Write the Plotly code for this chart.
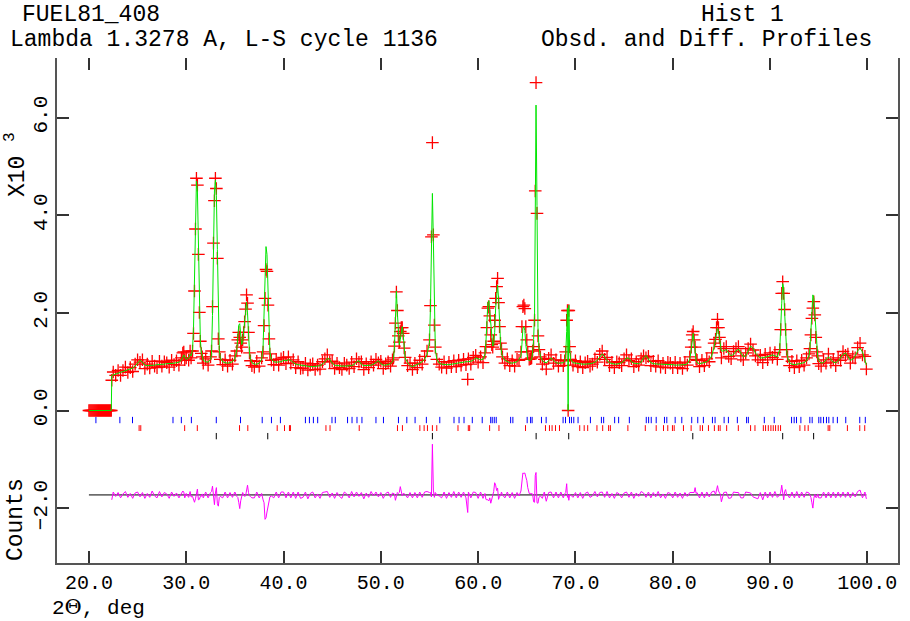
import plotly.graph_objects as go

# ---------------- data (2-theta in deg, intensities in 10^3 counts) ----------------
tth_a = [20.0, 20.1, 20.2, 20.3, 20.4, 20.5, 20.6, 20.7, 20.8, 20.9, 21.0, 21.1,
         21.2, 21.3, 21.4, 21.5, 21.6, 21.7, 21.8, 21.9, 22.0, 22.1, 22.2, 22.3]
obs_a = [0.0, 0.0, 0.0, 0.0, 0.0, 0.0, 0.0, 0.0, 0.0, 0.0, 0.0, 0.0,
         0.0, 0.0, 0.0, 0.0, 0.0, 0.0, 0.0, 0.0, 0.0, 0.0, 0.0, 0.0]
calc_a = [0.0, 0.0, 0.0, 0.0, 0.0, 0.0, 0.0, 0.0, 0.0, 0.0, 0.0, 0.0,
          0.0, 0.0, 0.0, 0.0, 0.0, 0.0, 0.0, 0.0, 0.0, 0.0, 0.0, 0.0]

tth_b = [22.35, 22.5, 22.75, 23.0, 23.25, 23.5, 23.75, 24.0, 24.25, 24.5,
         24.75, 25.0, 25.25, 25.5, 25.75, 26.0, 26.25, 26.5, 26.75, 27.0,
         27.25, 27.5, 27.75, 28.0, 28.25, 28.5, 28.75, 29.0, 29.25, 29.5,
         29.65, 29.75, 29.85, 30.0, 30.25, 30.4, 30.5]
calc_b = [0.72, 0.73, 0.75, 0.77, 0.78, 0.80, 0.82, 0.83, 0.85, 0.87,
          0.91, 0.98, 1.03, 0.99, 0.93, 0.92, 0.92, 0.93, 0.93, 0.94,
          0.94, 0.95, 0.95, 0.96, 0.96, 0.97, 0.97, 0.98, 0.99, 1.03,
          1.10, 1.14, 1.10, 1.05, 1.08, 1.15, 1.12]
obs_b = [0.62, 0.79, 0.72, 0.82, 0.72, 0.82, 0.89, 0.78, 0.88, 0.80,
         0.95, 1.04, 0.99, 1.04, 0.86, 0.95, 0.87, 1.01, 0.91, 0.88,
         1.01, 0.91, 1.00, 0.98, 0.89, 1.03, 0.94, 1.02, 0.93, 1.08,
         1.18, 1.20, 1.04, 1.08, 1.03, 1.22, 1.08]

tth_c = [30.65, 30.75, 30.85, 30.95, 31.05, 31.15, 31.25, 31.35, 31.45, 31.55,
         31.65, 31.75, 32.0, 32.25, 32.5]
calc_c = [1.25, 1.70, 2.60, 3.80, 4.70, 4.50, 3.30, 2.10, 1.45, 1.20,
          1.08, 1.03, 1.00, 0.99, 1.05]
obs_c = [1.22, 1.58, 2.45, 3.72, 4.76, 4.62, 3.20, 2.01, 1.42, 1.17,
         1.10, 0.97, 1.06, 0.93, 1.10]

tth_d = [32.6, 32.7, 32.8, 32.9, 33.0, 33.1, 33.2, 33.3, 33.4, 33.5,
         33.75, 34.0, 34.25, 34.5, 34.75, 35.0]
calc_d = [1.15, 1.95, 3.40, 4.50, 4.72, 4.40, 3.30, 1.70, 1.25, 1.08,
          1.00, 0.98, 0.97, 0.98, 1.00, 1.06]
obs_d = [1.22, 2.13, 3.43, 4.30, 4.76, 4.55, 3.12, 1.47, 1.20, 1.05,
         0.94, 1.04, 0.91, 1.03, 0.95, 1.12]

tth_e = [35.2, 35.3, 35.4, 35.5, 35.6, 35.7, 35.8, 35.9, 36.0, 36.1,
         36.2, 36.3, 36.4, 36.5, 36.6, 36.75, 37.0, 37.25, 37.5, 37.75]
calc_e = [1.25, 1.50, 1.75, 1.78, 1.50, 1.35, 1.40, 1.60, 1.85, 2.10,
          2.22, 2.00, 1.55, 1.20, 1.05, 0.98, 0.95, 0.95, 0.97, 1.05]
obs_e = [1.22, 1.45, 1.60, 1.50, 1.38, 1.30, 1.45, 1.60, 1.82, 2.08,
         2.37, 2.20, 1.60, 1.18, 1.02, 0.92, 0.89, 1.01, 0.91, 1.08]

tth_f = [37.9, 38.0, 38.1, 38.2, 38.3, 38.4, 38.5, 38.6, 38.75, 39.0,
         39.25, 39.5, 39.75, 40.0, 40.25, 40.5, 40.75, 41.0, 41.25, 41.5,
         41.75]
calc_f = [1.30, 1.90, 2.80, 3.36, 3.20, 2.40, 1.60, 1.20, 1.05, 1.00,
          0.99, 0.99, 1.00, 1.03, 1.02, 1.04, 1.03, 0.98, 0.95, 0.94,
          0.93]
obs_f = [1.20, 1.74, 2.30, 2.89, 2.85, 2.16, 1.47, 1.16, 1.03, 0.94,
         1.05, 0.93, 1.06, 1.09, 0.96, 1.10, 0.97, 1.04, 0.88, 1.00,
         0.86]

tth_g = [42.0, 42.25, 42.5, 42.75, 43.0, 43.25, 43.5, 43.75, 44.0, 44.25,
         44.5, 44.75, 45.0, 45.25, 45.5, 45.75, 46.0, 46.25, 46.5, 46.75,
         47.0, 47.25, 47.5, 47.75, 48.0, 48.25, 48.5, 48.75, 49.0, 49.25,
         49.5, 49.75, 50.0, 50.25, 50.5, 50.75, 51.0, 51.2]
calc_g = [0.92, 0.91, 0.91, 0.90, 0.90, 0.90, 0.91, 0.92, 0.95, 1.00,
          1.07, 1.05, 0.97, 0.93, 0.92, 0.91, 0.91, 0.91, 0.91, 0.92,
          0.92, 0.94, 1.00, 1.02, 0.95, 0.92, 0.92, 0.93, 0.93, 0.95,
          0.99, 1.02, 0.96, 0.93, 0.93, 0.94, 0.96, 1.00]
obs_g = [0.87, 0.97, 0.83, 0.93, 0.96, 0.84, 0.93, 0.85, 1.00, 1.06,
         1.14, 1.00, 1.01, 0.86, 0.97, 0.88, 0.84, 0.97, 0.93, 0.86,
         0.99, 0.90, 1.06, 0.99, 1.00, 0.84, 0.96, 0.88, 1.00, 0.93,
         1.05, 0.98, 1.01, 0.86, 0.96, 1.00, 0.91, 1.04]

tth_h = [51.3, 51.4, 51.5, 51.6, 51.7, 51.8, 51.9, 52.0, 52.1, 52.2,
         52.3, 52.4, 52.5, 52.75, 53.0, 53.25, 53.5, 53.75, 54.0, 54.25,
         54.5, 54.75]
calc_h = [1.05, 1.30, 1.90, 2.45, 2.00, 1.50, 1.35, 1.45, 1.60, 1.72,
          1.55, 1.25, 1.08, 0.98, 0.92, 0.90, 0.92, 0.94, 0.97, 1.00,
          1.05, 1.15]
obs_h = [1.08, 1.32, 1.79, 2.43, 2.05, 1.53, 1.40, 1.62, 1.70, 1.70,
         1.58, 1.28, 1.09, 0.92, 0.97, 0.84, 0.97, 0.88, 1.03, 0.95,
         1.11, 1.22]

tth_i = [55.0, 55.1, 55.2, 55.3, 55.4, 55.5, 55.6, 55.75, 56.0]
calc_i = [1.40, 2.10, 3.60, 4.45, 3.50, 1.80, 1.25, 1.05, 0.97]
obs_i = [1.45, 2.15, 3.56, 5.49, 3.60, 1.75, 1.30, 1.05, 0.95]

tth_j = [56.25, 56.5, 56.75, 57.0, 57.25, 57.5, 57.75, 58.0, 58.25, 58.5,
         58.75, 58.93, 59.0, 59.25, 59.5, 59.75, 60.0, 60.25, 60.5]
calc_j = [0.95, 0.94, 0.94, 0.94, 0.95, 0.95, 0.96, 0.97, 0.98, 0.99,
          1.00, 1.00, 1.00, 1.01, 1.03, 1.08, 1.06, 1.04, 1.05]
obs_j = [0.89, 1.00, 0.87, 0.99, 0.90, 1.02, 0.90, 1.03, 0.93, 1.05,
         0.94, 0.64, 1.06, 0.95, 1.09, 1.13, 0.99, 1.10, 0.98]

tth_k = [60.7, 60.8, 60.9, 61.0, 61.1, 61.2, 61.3, 61.4, 61.5, 61.6,
         61.7, 61.8, 61.9, 62.0, 62.1, 62.2, 62.3, 62.4, 62.5, 62.75]
calc_k = [1.15, 1.40, 1.80, 2.20, 2.25, 2.00, 1.72, 1.45, 1.32, 1.35,
          1.60, 2.10, 2.45, 2.57, 2.30, 1.75, 1.40, 1.20, 1.10, 1.03]
obs_k = [1.18, 1.31, 1.70, 2.10, 2.13, 1.94, 1.55, 1.35, 1.30, 1.42,
         1.85, 2.30, 2.54, 2.71, 2.21, 1.72, 1.38, 1.26, 1.10, 0.97]

tth_l = [63.0, 63.25, 63.5, 63.75, 64.0, 64.2, 64.4, 64.5, 64.6, 64.7,
         64.8, 64.9, 65.0, 65.1, 65.25, 65.4]
calc_l = [1.00, 0.98, 0.97, 0.98, 1.00, 1.05, 1.12, 1.35, 1.68, 1.72,
          1.64, 1.35, 1.15, 1.05, 1.02, 1.03]
obs_l = [1.06, 0.92, 1.02, 0.91, 1.05, 1.03, 1.20, 1.72, 2.13, 2.16,
         2.09, 1.72, 1.45, 1.20, 1.05, 1.06]

tth_m = [65.5, 65.6, 65.7, 65.8, 65.87, 65.95, 66.05, 66.15, 66.25, 66.4,
         66.6, 66.8, 67.0, 67.25, 67.5, 67.75, 68.0, 68.25, 68.5, 68.75]
calc_m = [1.05, 1.20, 1.45, 2.00, 4.10, 6.26, 4.20, 1.70, 1.30, 1.12,
          1.02, 0.99, 0.98, 1.02, 1.08, 1.03, 0.98, 0.97, 0.97, 0.98]
obs_m = [1.08, 1.22, 1.31, 1.85, 4.50, 6.72, 4.04, 1.53, 1.25, 1.10,
         0.95, 1.05, 0.85, 1.07, 1.14, 0.97, 1.04, 0.91, 1.03, 0.92]

tth_n = [68.9, 69.0, 69.1, 69.18, 69.25, 69.32, 69.4, 69.5, 69.75, 70.0]
calc_n = [1.00, 1.15, 1.62, 2.10, 0.00, 2.16, 1.30, 1.05, 0.98, 0.97]
obs_n = [1.02, 1.20, 1.85, 2.05, 0.00, 2.05, 1.31, 1.05, 0.93, 1.02]

tth_o = [70.25, 70.5, 70.75, 71.0, 71.25, 71.5, 71.75, 72.0, 72.25, 72.5,
         72.75, 73.0, 73.25, 73.5, 73.75, 74.0, 74.25, 74.5, 74.75, 75.0,
         75.25, 75.5, 75.75, 76.0, 76.25, 76.5, 76.75, 77.0, 77.25, 77.5,
         77.75, 78.0, 78.25, 78.5, 78.75, 79.0, 79.25, 79.5, 79.75, 80.0,
         80.25, 80.5, 80.75, 81.0, 81.25, 81.5, 81.75]
calc_o = [0.96, 0.95, 0.95, 0.95, 0.95, 0.96, 0.97, 0.99, 1.03, 1.10,
          1.16, 1.10, 1.02, 0.98, 0.96, 0.95, 0.95, 0.96, 0.98, 1.02,
          1.08, 1.07, 1.00, 0.97, 0.96, 0.96, 0.99, 1.08, 1.13, 1.05,
          0.98, 0.96, 0.95, 0.95, 0.95, 0.95, 0.95, 0.94, 0.94, 0.94,
          0.93, 0.93, 0.93, 0.93, 0.94, 0.96, 1.05]
obs_o = [0.90, 1.00, 0.88, 0.98, 1.01, 0.91, 0.95, 1.06, 0.99, 1.15,
         1.22, 1.05, 1.09, 0.92, 0.99, 0.88, 1.00, 0.98, 0.92, 1.06,
         1.14, 1.02, 1.06, 0.90, 1.00, 0.93, 1.06, 1.12, 1.08, 1.11,
         0.92, 1.01, 0.91, 1.02, 0.89, 0.97, 0.88, 0.99, 0.97, 0.88,
         0.99, 0.88, 0.97, 0.86, 0.99, 0.93, 1.10]

tth_p = [81.9, 82.0, 82.1, 82.2, 82.3, 82.4, 82.5, 82.75, 83.0, 83.25,
         83.5, 83.75, 84.0, 84.25]
calc_p = [1.25, 1.50, 1.58, 1.40, 1.15, 1.02, 0.98, 0.96, 0.97, 0.98,
          1.00, 1.04, 1.12, 1.30]
obs_p = [1.30, 1.55, 1.62, 1.45, 1.30, 1.05, 1.03, 0.90, 1.03, 0.92,
         1.06, 1.00, 1.18, 1.38]

tth_q = [84.4, 84.5, 84.6, 84.7, 84.8, 84.9, 85.0, 85.25, 85.5, 85.75,
         86.0, 86.25, 86.5, 86.75, 87.0, 87.25, 87.5, 87.75, 88.0, 88.25,
         88.5, 88.75, 89.0, 89.25, 89.5, 89.75, 90.0, 90.25, 90.5, 90.75]
calc_q = [1.45, 1.60, 1.68, 1.62, 1.45, 1.30, 1.22, 1.22, 1.25, 1.18,
          1.12, 1.15, 1.22, 1.26, 1.18, 1.10, 1.12, 1.22, 1.32, 1.28,
          1.18, 1.12, 1.08, 1.08, 1.09, 1.10, 1.12, 1.14, 1.12, 1.10]
obs_q = [1.46, 1.70, 1.87, 1.70, 1.50, 1.31, 1.08, 1.27, 1.31, 1.11,
         1.06, 1.21, 1.27, 1.31, 1.12, 1.04, 1.18, 1.27, 1.36, 1.24,
         1.12, 1.04, 1.13, 0.98, 1.15, 1.04, 1.18, 1.09, 1.19, 1.05]

tth_r = [91.0, 91.1, 91.2, 91.3, 91.4, 91.5, 91.6, 91.7, 91.8, 92.0,
         92.25, 92.5, 92.75, 93.0, 93.25, 93.5, 93.75, 94.0]
calc_r = [1.25, 1.60, 2.20, 2.60, 2.50, 2.00, 1.55, 1.25, 1.10, 0.98,
          0.95, 0.94, 0.95, 0.96, 0.97, 0.98, 1.02, 1.12]
obs_r = [1.25, 1.66, 2.40, 2.64, 2.40, 2.07, 1.66, 1.25, 1.10, 0.92,
         1.01, 0.88, 1.02, 0.90, 1.03, 0.93, 1.08, 1.16]

tth_s = [94.1, 94.2, 94.3, 94.4, 94.5, 94.6, 94.7, 94.8, 94.9, 95.0,
         95.25, 95.5, 95.75, 96.0, 96.25, 96.5, 96.75, 97.0, 97.25, 97.5,
         97.75, 98.0, 98.25, 98.5, 98.75, 99.0, 99.25, 99.5, 99.75, 99.9]
calc_s = [1.27, 1.60, 2.05, 2.37, 2.30, 1.95, 1.55, 1.25, 1.10, 1.02,
          0.97, 0.98, 1.03, 1.10, 1.05, 0.99, 0.98, 1.02, 1.08, 1.15,
          1.18, 1.10, 1.03, 1.05, 1.12, 1.22, 1.28, 1.20, 1.05, 0.93]
obs_s = [1.27, 1.55, 1.89, 2.10, 2.23, 1.96, 1.50, 1.20, 1.12, 0.96,
         0.91, 1.04, 0.97, 1.16, 0.99, 1.05, 0.92, 1.08, 1.03, 1.21,
         1.13, 1.16, 0.97, 1.10, 1.08, 1.29, 1.38, 1.14, 1.11, 0.85]

# reflection positions (deg) for the three phases
phase1_refl = [20.72, 23.18, 24.48, 28.64, 29.50, 30.53, 33.09, 35.58, 37.81, 38.76,
               39.68, 42.25, 42.66, 43.07, 43.51, 44.98, 45.32, 46.58, 47.04, 47.55,
               48.06, 49.50, 50.27, 51.81, 52.67, 53.52, 54.68, 56.06, 57.52, 58.04,
               58.55, 59.40, 60.42, 61.29, 61.45, 61.66, 61.86, 63.34, 63.57, 65.04,
               65.39, 65.55, 66.51, 66.99, 68.73, 68.98, 69.39, 69.59, 69.83, 70.27,
               71.54, 72.67, 72.90, 74.03, 74.44, 75.54, 77.28, 77.52, 77.79, 78.30,
               79.15, 79.39, 80.25, 80.93, 81.95, 82.57, 83.15, 84.08, 84.35, 85.28,
               85.72, 86.64, 87.59, 87.77, 89.41, 90.43, 92.21, 92.48, 92.72, 93.17,
               94.09, 94.33, 95.01, 95.22, 95.49, 95.80, 96.04, 96.48, 96.92, 97.78,
               99.22, 99.79]
phase2_refl = [25.16, 25.33, 29.84, 31.14, 35.48, 36.33, 39.35, 40.10, 40.61, 40.71,
               44.36, 44.78, 47.78, 51.71, 52.22, 54.01, 54.45, 54.79, 55.30, 55.75,
               57.93, 58.99, 59.13, 61.18, 62.14, 64.87, 66.92, 67.33, 67.60, 67.95,
               68.36, 70.44, 70.90, 71.26, 72.21, 72.80, 73.41, 73.59, 75.39, 77.18,
               78.30, 79.05, 79.49, 79.97, 80.15, 81.10, 81.89, 82.82, 83.06, 83.67,
               84.28, 84.69, 84.87, 85.54, 86.74, 88.00, 88.45, 89.31, 89.54, 89.82,
               90.09, 90.33, 90.57, 90.84, 91.08, 93.07, 93.58, 93.92, 95.97, 96.14,
               97.95, 99.22, 99.73]
phase3_refl = [33.09, 38.38, 55.30, 65.96, 69.31, 82.06, 91.30, 94.48]

xtick_vals = [20, 30, 40, 50, 60, 70, 80, 90, 100]
ytick_vals = [-2, 0, 2, 4, 6]

# ---------------- assemble ----------------
tth = (tth_a + tth_b + tth_c + tth_d + tth_e + tth_f + tth_g + tth_h + tth_i + tth_j
       + tth_k + tth_l + tth_m + tth_n + tth_o + tth_p + tth_q + tth_r + tth_s)
yobs = (obs_a + obs_b + obs_c + obs_d + obs_e + obs_f + obs_g + obs_h + obs_i + obs_j
        + obs_k + obs_l + obs_m + obs_n + obs_o + obs_p + obs_q + obs_r + obs_s)
ycalc = (calc_a + calc_b + calc_c + calc_d + calc_e + calc_f + calc_g + calc_h + calc_i + calc_j
         + calc_k + calc_l + calc_m + calc_n + calc_o + calc_p + calc_q + calc_r + calc_s)

DIFF_OFFSET = -1.73
diff_x = [t for t in tth if t > 22.32]
diff_y = [DIFF_OFFSET + o - c for t, o, c in zip(tth, yobs, ycalc) if t > 22.32]

X_RANGE = [16.72, 103.15]
Y_RANGE = [-3.125, 7.225]

fig = go.Figure()


def refl_trace(pos, y_top, y_bot, color):
    xs, ys = [], []
    for p in pos:
        xs += [p, p, None]
        ys += [y_top, y_bot, None]
    return go.Scatter(x=xs, y=ys, mode="lines", line=dict(color=color, width=1),
                      hoverinfo="skip", showlegend=False)


fig.add_trace(refl_trace(phase1_refl, -0.13, -0.26, "#0000ff"))
fig.add_trace(refl_trace(phase2_refl, -0.30, -0.42, "#ff0000"))
fig.add_trace(refl_trace(phase3_refl, -0.46, -0.59, "#000000"))

# difference baseline and difference curve
fig.add_trace(go.Scatter(x=[tth[0], tth[-1]], y=[DIFF_OFFSET, DIFF_OFFSET], mode="lines",
                         line=dict(color="#000000", width=1), hoverinfo="skip", showlegend=False))
fig.add_trace(go.Scatter(x=diff_x, y=diff_y, mode="lines",
                         line=dict(color="#ff00ff", width=1), showlegend=False))

# observed and calculated
fig.add_trace(go.Scatter(x=tth, y=yobs, mode="markers",
                         marker=dict(symbol="cross-thin", size=9,
                                     line=dict(color="#ff0000", width=1.3)),
                         showlegend=False))
fig.add_trace(go.Scatter(x=tth, y=ycalc, mode="lines",
                         line=dict(color="#00e600", width=1), showlegend=False))

# dummy trace for top tick axis
fig.add_trace(go.Scatter(x=[], y=[], xaxis="x2", yaxis="y", showlegend=False, hoverinfo="skip"))

FONT = "Liberation Mono"
AX_COL = "#555555"
TICK_COL = "#333333"

fig.update_layout(
    width=910, height=621,
    margin=dict(l=57, r=10, t=58, b=58),
    paper_bgcolor="white", plot_bgcolor="white",
    showlegend=False,
    font=dict(family=FONT, size=21, color="black"),
    xaxis=dict(range=X_RANGE, tickvals=xtick_vals, tickformat=".1f",
               ticks="inside", ticklen=12, tickwidth=1.5, tickcolor=TICK_COL,
               showline=True, linecolor=AX_COL, linewidth=2,
               showgrid=False, zeroline=False,
               tickfont=dict(family=FONT, size=20, color="black")),
    xaxis2=dict(range=X_RANGE, overlaying="x", matches="x", side="top",
                tickvals=xtick_vals, ticks="inside", ticklen=12, tickwidth=1.5,
                tickcolor=TICK_COL, showticklabels=False, showline=False,
                showgrid=False, zeroline=False),
    yaxis=dict(range=Y_RANGE, tickvals=ytick_vals, tickformat=".1f", tickangle=-90,
               ticks="inside", ticklen=12, tickwidth=1.5, tickcolor=TICK_COL,
               showline=True, linecolor=AX_COL, linewidth=2, mirror="ticks",
               showgrid=False, zeroline=False,
               tickfont=dict(family=FONT, size=21, color="black")),
)

PW, PH, L, T = 843.0, 505.0, 57.0, 58.0


def px(xp):
    return (xp - L) / PW


def py(yp):
    return (T + PH - yp) / PH


title_font = dict(family=FONT, size=23, color="black")
ann = [
    dict(text="FUEL81_408", x=px(20), y=py(15), xanchor="left", yanchor="middle"),
    dict(text="Lambda 1.3278 A, L-S cycle 1136", x=px(8), y=py(40), xanchor="left", yanchor="middle"),
    dict(text="Hist 1", x=px(701), y=py(15), xanchor="left", yanchor="middle"),
    dict(text="Obsd. and Diff. Profiles", x=px(540), y=py(40), xanchor="left", yanchor="middle"),
    dict(text="X10 <sup>3</sup>", x=px(16), y=py(165), xanchor="center", yanchor="middle", textangle=-90),
    dict(text="Counts", x=px(16), y=py(520), xanchor="center", yanchor="middle", textangle=-90),
    dict(text="2<span style=\"font-family:'DejaVu Serif'\">\u0398</span>, deg",
         x=px(50), y=py(607), xanchor="left", yanchor="middle",
         font=dict(family=FONT, size=21, color="black")),
]
for a in ann:
    a.update(xref="paper", yref="paper", showarrow=False)
    if "font" not in a:
        a["font"] = title_font
fig.update_layout(annotations=ann)

fig.write_html("out.html", config={"displayModeBar": False})
